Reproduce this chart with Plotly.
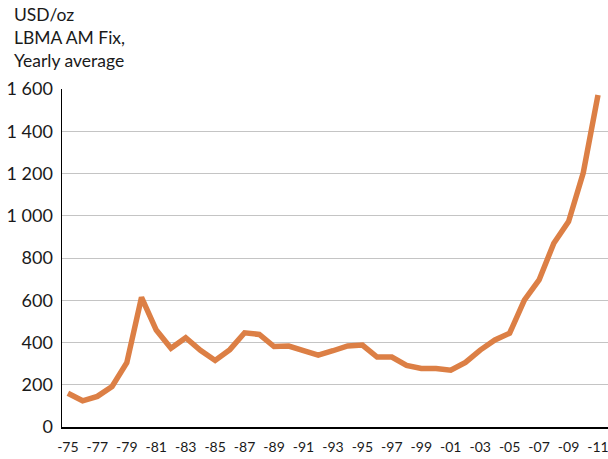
import plotly.graph_objects as go

years = list(range(1975, 2012))
price = [160, 124, 145, 192, 304, 614, 459, 373, 423, 363, 315, 366, 446, 438, 381, 383,
         361, 340, 361, 384, 388, 331, 331, 292, 277, 277, 269, 306, 364, 412, 444,
         601, 696, 870, 972, 1203, 1572]
tick_years = list(range(1975, 2012, 2))
tick_text = ["-" + str(y)[2:] for y in tick_years]
y_ticks = [0, 200, 400, 600, 800, 1000, 1200, 1400, 1600]
title_lines = ["USD/oz", "LBMA AM Fix,", "Yearly average"]

FONT = "Lato, 'Open Sans', sans-serif"

fig = go.Figure()
fig.add_trace(go.Scatter(
    x=years, y=price, mode="lines",
    line=dict(color="#DC7F45", width=5.5),
    hoverinfo="skip", showlegend=False, cliponaxis=False,
))

fig.update_layout(
    width=608, height=459,
    margin=dict(l=62, r=0, t=89, b=32, autoexpand=False),
    paper_bgcolor="white", plot_bgcolor="white",
    separators=". ",
    font=dict(family=FONT, color="#1a1a1a"),
    xaxis=dict(
        range=[1974.6, 2011.68],
        tickvals=tick_years, ticktext=tick_text,
        tickfont=dict(size=14, family=FONT, color="#1a1a1a"),
        showgrid=False, zeroline=False,
        showline=True, linecolor="black", linewidth=1.5,
        ticks="", ticklabelstandoff=7, automargin=False,
        ticklabeloverflow="allow",
        fixedrange=True,
    ),
    yaxis=dict(
        range=[0, 1600],
        tickvals=y_ticks, tickformat=",d",
        tickfont=dict(size=18, family=FONT, color="#1a1a1a"),
        showgrid=True, gridcolor="#C4C4C4", gridwidth=1,
        zeroline=False,
        showline=True, linecolor="black", linewidth=1.5,
        ticks="", ticklabelstandoff=4, automargin=False,
        fixedrange=True,
    ),
    annotations=[dict(
        text="<br>".join(title_lines),
        xref="paper", yref="paper", x=-62/546, y=1 + 87/338,
        xanchor="left", yanchor="top", xshift=12, showarrow=False, align="left",
        font=dict(size=17.5, family=FONT, color="#1a1a1a"),
    )],
)

fig.write_html(
    "out.html",
    config={"displayModeBar": False, "staticPlot": True},
    post_script="document.body.style.margin='0';document.body.style.overflow='hidden';",
)
